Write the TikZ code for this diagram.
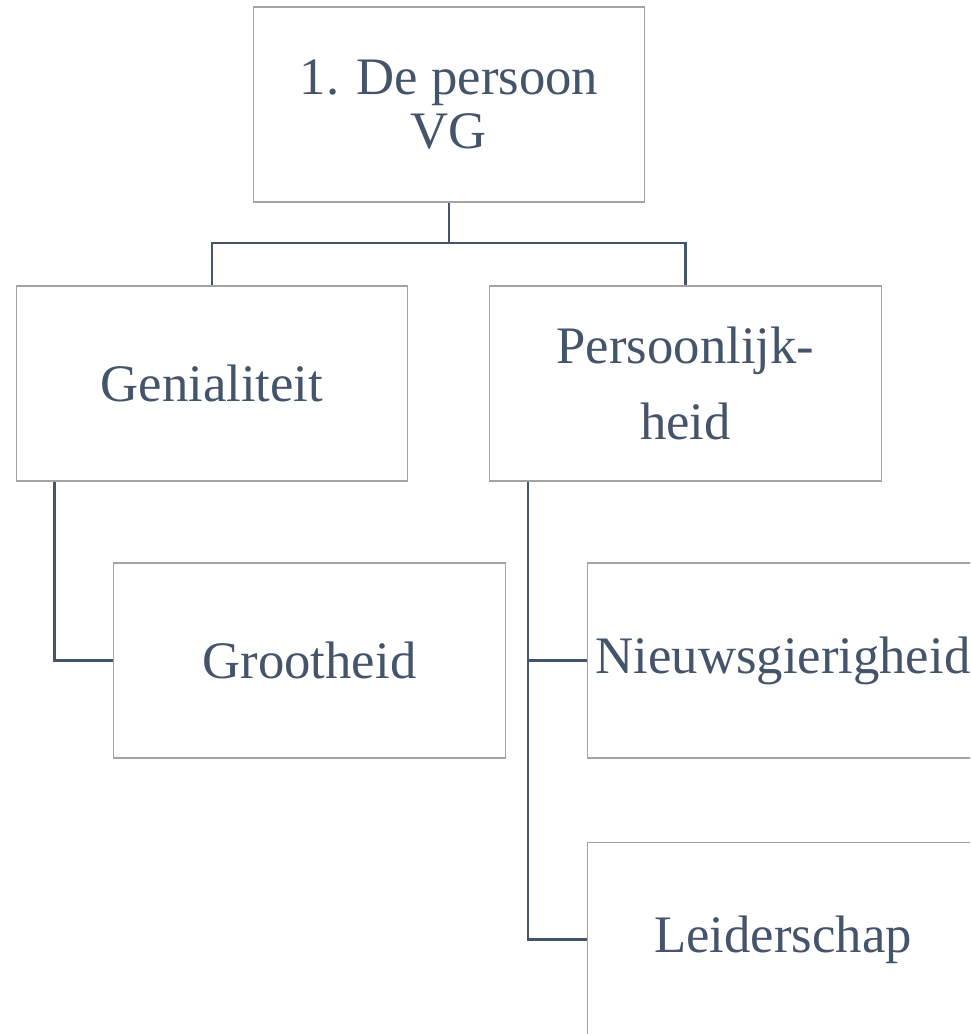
\documentclass[tikz,border=0pt]{standalone}
\usepackage{fontspec}
\setmainfont{Liberation Serif}
\usepackage{xcolor}
\definecolor{slate}{HTML}{44546A}
\definecolor{rim}{HTML}{A3A3A3}

\begin{document}
\begin{tikzpicture}[x=0.02cm,y=-0.02cm,
	box/.style={draw=rim,line width=0.6pt,fill=white,minimum width=7.84cm,minimum height=3.9cm,
		align=center,text=slate,font=\fontsize{30}{43}\selectfont,inner sep=0pt},
	link/.style={draw=slate,line width=1.3pt}]
	% Frame of the picture
	\useasboundingbox (0,0) rectangle (970,1034);
	\clip (0,0) rectangle (970,1034);
	% Boxes
	\node[box,font=\fontsize{30}{31}\selectfont] (persoon) at (449,104.5) {1. De persoon\\VG};
	\node[box] (genie) at (212,383.5) {Genialiteit};
	\node[box] (pers) at (685.5,383.5) {Persoonlijk-\\heid};
	\node[box] (groot) at (309.5,660.5) {Grootheid};
	\node[box] (nieuw) at (783,660.5) {Nieuwsgierigheid};
	\node[box] (leider) at (783,939.5) {Leiderschap};
	% Connectors
	\coordinate (split) at (449,243);
	\draw[link] (persoon.south) -- (split);
	\draw[link] (genie.north) |- (split) -| (pers.north);
	\draw[link] (genie.south west) ++(39,0) |- (groot.west);
	\draw[link] (pers.south west) ++(39,0) |- (leider.west);
	\draw[link] (nieuw.west) -- ++(-58,0);
\end{tikzpicture}
\end{document}
